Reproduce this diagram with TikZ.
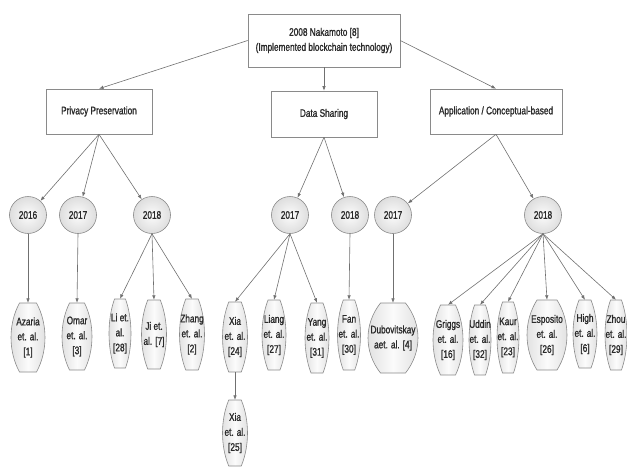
\documentclass[tikz,border=0pt]{standalone}
\usepackage{fontspec}
\setmainfont{Liberation Sans}[FakeStretch=0.75,FakeBold=1.2]
\usetikzlibrary{arrows.meta,shadows}
\definecolor{ln}{HTML}{707070}
\definecolor{bd}{HTML}{8A8A8A}
\definecolor{tx}{HTML}{2A2A2A}
\newcommand\leaf[6]{%
 \path[leafsty] ({#2-0.25*#4},#3) -- ({#2+0.25*#4},#3)
   .. controls ({#2+0.583*#4},{#3+0.3*#5}) and ({#2+0.583*#4},{#3+0.7*#5}) .. ({#2+0.25*#4},{#3+#5})
   -- ({#2-0.25*#4},{#3+#5})
   .. controls ({#2-0.583*#4},{#3+0.7*#5}) and ({#2-0.583*#4},{#3+0.3*#5}) .. cycle;
 \node[leaftext, minimum width=#4pt, minimum height=#5pt] (#1) at (#2,{#3+#5/2}) {#6};
}
\begin{document}
\begin{tikzpicture}[x=1pt,y=-1pt,
 every node/.style={text=tx, font=\fontsize{11}{15}\selectfont},
 box/.style={draw=bd, fill=white, line width=0.6pt, align=center,
   drop shadow={shadow xshift=1.2pt, shadow yshift=-1.2pt, opacity=0.25}},
 yr/.style={circle, draw=bd, line width=0.6pt, minimum size=37pt, inner sep=0pt,
   inner color=gray!3, outer color=gray!26},
 leafsty/.style={draw=bd, line width=0.6pt, left color=gray!26, right color=gray!26, middle color=gray!3},
 leaftext/.style={inner sep=0pt, align=center},
 arr/.style={draw=ln, line width=0.6pt, -{Latex[length=4.5pt,width=3.5pt]}}]
\useasboundingbox (0,0) rectangle (627,467);

% top level
\node[box, minimum width=152pt, minimum height=53pt] (top) at (324,40.5) {2008 Nakamoto [8]\\(Implemented blockchain technology)};
\node[box, minimum width=106pt, minimum height=45pt] (pp) at (99,111.5) {Privacy Preservation};
\node[box, minimum width=106pt, minimum height=46pt] (ds) at (324,114) {Data Sharing};
\node[box, minimum width=132pt, minimum height=45pt] (ap) at (496,111.5) {Application / Conceptual-based};

% years
\node[yr] (p16) at (28,215) {2016};
\node[yr] (p17) at (78,215) {2017};
\node[yr] (p18) at (152,215) {2018};
\node[yr] (d17) at (290,215) {2017};
\node[yr] (d18) at (350,215) {2018};
\node[yr] (a17) at (393,215) {2017};
\node[yr] (a18) at (543,215) {2018};

% leaves
\leaf{az}{28}{303}{34}{69}{Azaria\\et. al.\\{[1]}}
\leaf{om}{77}{303}{30}{67}{Omar\\et. al.\\{[3]}}
\leaf{li}{120}{299}{22}{69}{Li et.\\al.\\{[28]}}
\leaf{ji}{154}{300}{25}{69}{Ji et.\\al. [7]}
\leaf{zh}{192}{299}{25}{71}{Zhang\\et. al.\\{[2]}}
\leaf{xa}{235}{302}{25}{70}{Xia\\et. al.\\{[24]}}
\leaf{lg}{274}{300}{24}{70}{Liang\\et. al.\\{[27]}}
\leaf{ya}{317}{303}{24}{70}{Yang\\et. al.\\{[31]}}
\leaf{fa}{349}{300}{23}{70}{Fan\\et. al.\\{[30]}}
\leaf{du}{393}{303}{50}{70}{Dubovitskay\\aet. al. [4]}
\leaf{gr}{448}{305}{30}{70}{Griggs\\et. al.\\{[16]}}
\leaf{ud}{480}{305}{22}{70}{Uddin\\et. al.\\{[32]}}
\leaf{ka}{508}{302}{22}{71}{Kaur\\et. al.\\{[23]}}
\leaf{es}{547}{300}{40}{70}{Esposito\\et. al.\\{[26]}}
\leaf{hi}{585}{300}{24}{68}{High\\et. al.\\{[6]}}
\leaf{zo}{616}{300}{22}{70}{Zhou\\et. al.\\{[29]}}
\leaf{xb}{235}{400}{25}{66}{Xia\\et. al.\\{[25]}}

% connectors
\draw[arr] (top.west) -- (pp.north);
\draw[arr] (top.south) -- (ds.north);
\draw[arr] (top.east) -- (ap.north);

\draw[arr] (pp.south) -- (p16);
\draw[arr] (pp.south) -- (p17);
\draw[arr] (pp.south) -- (p18);
\draw[arr] (ds.south) -- (d17);
\draw[arr] (ds.south) -- (d18);
\draw[arr] (ap.south) -- (a17);
\draw[arr] (ap.south) -- (a18);

\draw[arr] (p16.south) -- (az.north);
\draw[arr] (p17.south) -- (om.north);
\draw[arr] (p18.south) -- (li.north);
\draw[arr] (p18.south) -- (ji.north);
\draw[arr] (p18.south) -- (zh.north);
\draw[arr] (d17.south) -- (xa.north);
\draw[arr] (d17.south) -- (lg.north);
\draw[arr] (d17.south) -- (ya.north);
\draw[arr] (d18.south) -- (fa.north);
\draw[arr] (a17.south) -- (du.north);
\draw[arr] (a18.south) -- (gr.north);
\draw[arr] (a18.south) -- (ud.north);
\draw[arr] (a18.south) -- (ka.north);
\draw[arr] (a18.south) -- (es.north);
\draw[arr] (a18.south) -- (hi.north);
\draw[arr] (a18.south) -- (zo.north);
\draw[arr] (xa.south) -- (xb.north);
\end{tikzpicture}
\end{document}
